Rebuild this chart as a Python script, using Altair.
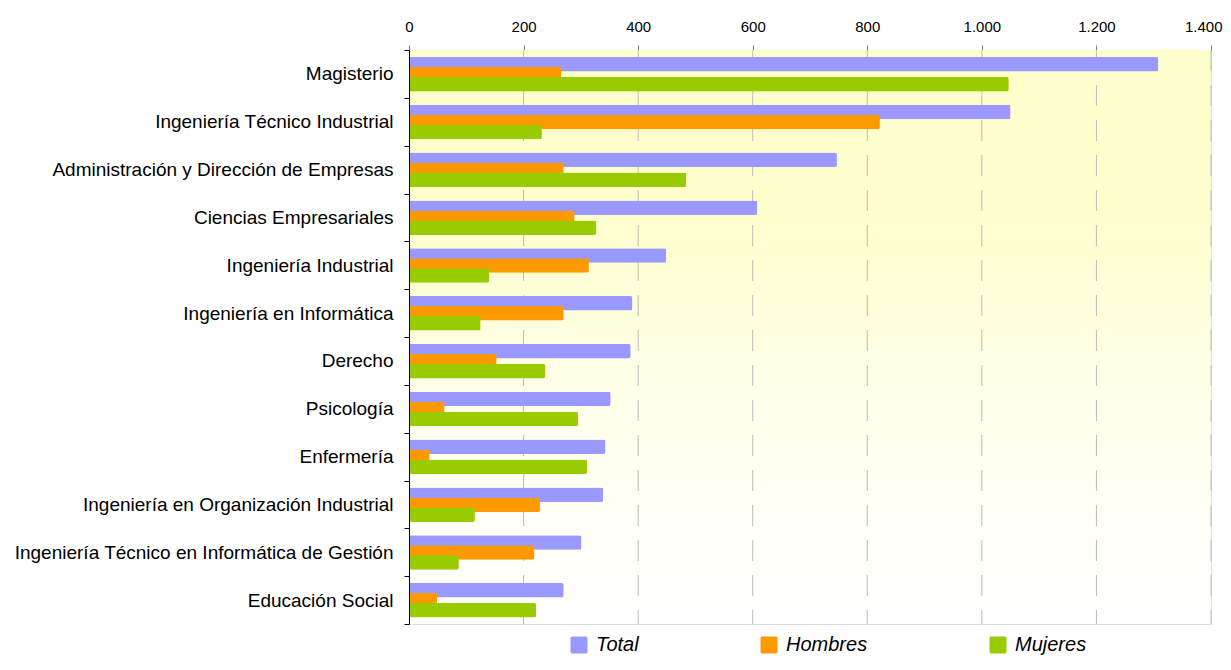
import altair as alt
import pandas as pd

categories = [
    "Magisterio",
    "Ingeniería Técnico Industrial",
    "Administración y Dirección de Empresas",
    "Ciencias Empresariales",
    "Ingeniería Industrial",
    "Ingeniería en Informática",
    "Derecho",
    "Psicología",
    "Enfermería",
    "Ingeniería en Organización Industrial",
    "Ingeniería Técnico en Informática de Gestión",
    "Educación Social",
]
total = [1308, 1050, 747, 608, 449, 390, 387, 352, 343, 339, 301, 270]
hombres = [266, 822, 270, 289, 314, 270, 153, 62, 36, 229, 219, 49]
mujeres = [1047, 232, 484, 327, 140, 125, 238, 295, 311, 115, 87, 222]
series = ["Total", "Hombres", "Mujeres"]
colors = ["#9999FF", "#FF9900", "#99CC00"]
x_ticks = [0, 200, 400, 600, 800, 1000, 1200, 1400]

rows = []
for i, c in enumerate(categories):
    for s, vals in zip(series, [total, hombres, mujeres]):
        rows.append({"carrera": c, "serie": s, "valor": vals[i]})
df = pd.DataFrame(rows)
grid_df = pd.DataFrame({"valor": x_ticks[1:]})

W, H = 802, 574
FONT = "Liberation Sans"

xscale = alt.Scale(domain=[0, 1400], nice=False, zero=True)
xaxis = alt.Axis(
    orient="top",
    values=x_ticks,
    labelExpr="replace(format(datum.value, ','), ',', '.')",
    grid=False,
    title=None,
    tickSize=5,
    domainColor="#808080",
    tickColor="#808080",
    labelColor="#000000",
    labelFontSize=15,
    labelFont=FONT,
    labelPadding=11,
    labelAlign={"condition": {"test": "datum.value == 1400", "value": "right"}, "value": "center"},
    labelOffset={"condition": {"test": "datum.value == 1400", "value": 11}, "value": 0},
)

bg = alt.Chart(alt.Data(values=[{"a": 1}])).mark_rect(
    color=alt.Gradient(
        gradient="linear",
        stops=[
            alt.GradientStop(color="#FFFFCC", offset=0),
            alt.GradientStop(color="#FFFFCE", offset=0.3),
            alt.GradientStop(color="#FFFFE6", offset=0.55),
            alt.GradientStop(color="#FFFFF8", offset=0.85),
            alt.GradientStop(color="#FFFFFF", offset=1),
        ],
        x1=0, x2=0, y1=0, y2=1,
    )
).encode(x=alt.value(0), x2=alt.value(W), y=alt.value(0), y2=alt.value(H))

grid = alt.Chart(grid_df).mark_rule(
    color="#BBBBBB", strokeWidth=1, strokeDash=[21, 14]
).encode(x=alt.X("valor:Q", scale=xscale, axis=xaxis))

bars = alt.Chart(df).mark_bar(size=14.5, cornerRadius=2).encode(
    x=alt.X("valor:Q", scale=xscale, axis=xaxis),
    y=alt.Y(
        "carrera:N",
        sort=categories,
        scale=alt.Scale(domain=categories, paddingInner=0, paddingOuter=0),
        axis=alt.Axis(
            title=None,
            tickBand="extent",
            tickSize=5,
            labelFontSize=19,
            labelFont=FONT,
            labelColor="#000000",
            labelPadding=11,
            labelLimit=700,
            domainColor="#000000",
            tickColor="#000000",
            zindex=1,
        ),
    ),
    yOffset=alt.YOffset(
        "serie:N",
        sort=series,
        scale=alt.Scale(domain=series, range=[9.2, 39.2], paddingInner=0, paddingOuter=0),
    ),
    color=alt.Color(
        "serie:N",
        sort=series,
        scale=alt.Scale(domain=series, range=colors),
        legend=alt.Legend(
            title=None,
            orient="none",
            direction="horizontal",
            legendX=160,
            legendY=585,
            symbolType="M-0.8,-1 H0.8 Q1,-1 1,-0.8 V0.8 Q1,1 0.8,1 H-0.8 Q-1,1 -1,0.8 V-0.8 Q-1,-1 -0.8,-1 Z",
            symbolSize=289,
            symbolStrokeWidth=0,
            symbolOpacity=1,
            labelFontSize=20,
            labelFont=FONT,
            labelFontStyle="italic",
            labelColor="#000000",
            labelOffset=7,
            columnPadding=120,
        ),
    ),
)

chart = alt.layer(bg, grid, bars).properties(
    width=W,
    height=H,
    autosize=alt.AutoSizeParams(type="none"),
    padding={"left": 401, "top": 42, "right": 12, "bottom": 37},
).configure_view(stroke=None).configure(font=FONT, background="#FFFFFF")

chart.save("out.html", embed_options={"renderer": "svg", "actions": False})
